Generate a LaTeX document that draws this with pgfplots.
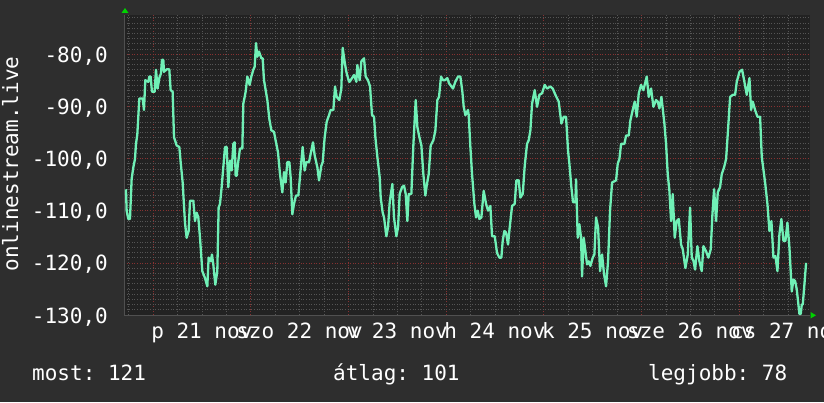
\documentclass[border=0pt]{standalone}
\usepackage{fontspec}
\setmainfont{DejaVu Sans Mono}
\usepackage{pgfplots}
\pgfplotsset{compat=1.18}
\definecolor{outerbg}{RGB}{46,46,46}
\definecolor{plotbg}{RGB}{34,34,34}
\definecolor{mint}{RGB}{112,240,182}
\definecolor{gridred}{RGB}{135,50,50}
\definecolor{gridgray}{RGB}{85,85,85}
\definecolor{axisgray}{RGB}{80,80,80}
\definecolor{arrowgreen}{RGB}{0,210,0}

% hours since 21 nov 00:00, signal level
\pgfplotstableread{
h v
-6.64 -105.9
-6.47 -110.0
-6.06 -111.6
-5.65 -111.6
-5.24 -103.9
-4.83 -101.7
-4.42 -100.1
-4.18 -97.2
-3.85 -95.4
-3.36 -88.5
-2.54 -88.5
-2.21 -90.7
-1.89 -85.0
-1.15 -85.3
-0.90 -84.3
-0.58 -84.3
-0.25 -87.2
0.41 -87.2
0.74 -83.0
1.14 -86.6
1.55 -84.6
1.96 -83.7
2.21 -81.1
2.54 -81.1
2.70 -83.4
3.36 -82.9
4.01 -82.9
4.34 -86.9
4.83 -87.2
5.16 -95.9
5.81 -97.5
6.47 -97.8
6.80 -100.7
7.29 -104.6
7.86 -112.3
8.27 -115.2
8.76 -113.9
9.09 -108.1
9.91 -108.1
10.32 -112.0
10.73 -110.4
11.14 -111.3
11.55 -115.2
12.12 -121.6
12.77 -122.9
13.35 -124.5
13.67 -119.0
14.17 -119.7
14.49 -118.4
14.82 -120.3
15.31 -124.2
15.80 -121.6
16.13 -109.4
16.46 -108.7
16.87 -105.5
17.69 -97.8
18.10 -97.8
18.51 -105.5
18.92 -100.4
19.33 -102.3
19.74 -97.2
20.06 -96.9
20.31 -103.3
20.56 -103.3
20.88 -101.0
21.37 -98.1
21.95 -98.1
22.19 -89.5
22.77 -87.2
23.18 -84.3
23.75 -85.9
24.16 -84.3
24.65 -83.0
24.98 -82.4
25.31 -77.9
25.63 -80.5
26.04 -79.5
26.62 -80.8
26.94 -80.8
27.27 -85.0
27.68 -86.9
28.09 -88.8
28.58 -92.4
29.07 -94.6
29.73 -94.9
30.22 -96.9
30.71 -98.8
31.20 -103.0
31.78 -106.5
32.19 -102.6
32.59 -104.6
33.00 -100.7
33.50 -100.7
33.82 -103.6
34.23 -110.7
34.64 -108.7
35.13 -107.1
35.71 -107.1
36.28 -102.0
36.77 -97.8
37.26 -102.3
37.67 -100.7
38.33 -100.7
38.74 -99.1
39.31 -96.9
39.72 -99.4
40.38 -101.7
40.78 -104.2
41.36 -101.4
41.69 -100.7
42.18 -95.9
42.67 -93.0
43.24 -91.7
43.65 -90.7
44.31 -90.7
44.72 -86.2
45.13 -88.2
45.78 -88.8
46.27 -86.6
46.60 -78.8
47.01 -81.1
47.50 -83.4
48.16 -85.3
48.32 -85.3
48.89 -84.6
49.38 -84.0
49.96 -85.3
50.20 -82.1
50.78 -85.0
51.19 -81.4
51.84 -80.8
52.25 -84.3
52.82 -85.0
53.32 -86.2
53.81 -91.7
54.30 -92.0
54.63 -95.9
55.12 -99.7
55.69 -103.6
55.94 -107.5
56.43 -110.4
56.76 -111.3
57.33 -114.9
57.74 -113.2
58.15 -108.4
58.80 -104.9
59.21 -111.3
59.79 -114.9
60.20 -113.2
60.60 -106.8
61.18 -105.5
61.67 -105.2
62.08 -106.8
62.49 -112.0
62.82 -106.8
63.47 -106.8
63.96 -97.5
64.54 -88.8
64.95 -94.0
65.44 -95.9
65.93 -97.5
66.42 -103.0
66.91 -107.1
67.24 -105.2
67.73 -103.0
68.22 -97.5
68.88 -96.5
69.37 -94.6
69.86 -88.8
70.27 -88.2
70.76 -84.3
71.25 -85.0
71.66 -85.0
72.32 -84.6
72.73 -85.6
73.71 -86.6
74.28 -85.3
74.94 -84.3
75.51 -84.3
76.00 -87.2
76.33 -90.1
76.74 -91.7
77.39 -90.7
77.56 -91.7
77.97 -97.8
78.38 -103.0
78.95 -108.7
79.36 -111.3
79.77 -110.0
80.18 -111.6
80.67 -111.3
81.24 -106.2
81.82 -108.7
82.31 -110.0
82.88 -109.1
83.29 -114.9
83.95 -114.9
84.52 -118.1
85.09 -119.0
85.58 -119.0
85.91 -115.8
86.32 -113.9
86.73 -114.2
87.22 -116.5
87.63 -113.2
88.21 -109.1
88.86 -108.7
89.27 -104.2
89.84 -104.2
90.25 -107.5
90.83 -106.8
91.32 -101.4
91.89 -97.2
92.30 -96.5
92.71 -94.6
93.12 -89.5
93.77 -86.9
94.35 -90.1
94.92 -87.8
95.58 -87.5
96.23 -85.9
96.80 -86.6
97.62 -86.2
98.20 -86.6
98.85 -87.8
99.67 -89.1
100.33 -93.3
100.90 -92.0
101.47 -92.0
101.96 -98.5
102.29 -101.0
102.78 -105.5
103.19 -108.4
103.77 -108.4
103.93 -104.0
104.34 -115.2
104.75 -112.6
105.16 -115.2
105.40 -122.6
105.81 -115.2
106.22 -117.7
106.63 -120.3
107.04 -119.7
107.45 -120.6
108.03 -119.0
108.43 -118.4
108.84 -111.3
109.34 -113.2
109.83 -121.6
110.32 -118.4
110.81 -122.2
111.30 -124.5
111.79 -119.7
112.28 -110.0
112.78 -104.6
113.76 -104.2
114.17 -101.0
114.58 -100.1
114.99 -97.2
115.81 -97.2
116.22 -95.6
116.87 -95.6
117.28 -92.7
117.85 -90.7
118.34 -89.1
118.84 -92.0
119.33 -87.5
119.90 -85.9
120.47 -86.9
121.29 -84.3
121.78 -88.2
122.36 -86.6
122.93 -90.1
123.59 -88.8
124.00 -89.1
124.41 -90.4
124.90 -88.2
125.63 -93.3
126.04 -97.2
126.45 -103.0
126.86 -106.2
127.27 -112.0
127.68 -106.8
128.17 -115.2
128.66 -112.0
129.16 -111.6
129.73 -116.5
130.14 -117.4
130.79 -121.0
131.37 -118.4
131.94 -109.4
132.35 -119.0
132.76 -119.6
133.17 -121.3
133.74 -116.8
134.23 -119.7
134.81 -121.6
135.22 -116.8
135.87 -117.8
136.44 -119.0
137.02 -117.4
137.43 -110.7
137.84 -105.9
138.33 -112.0
138.74 -106.5
139.31 -105.5
139.72 -103.0
140.29 -101.7
140.79 -100.1
141.28 -94.3
141.77 -88.2
142.42 -87.8
143.00 -87.8
143.41 -85.3
144.06 -83.4
144.72 -83.0
145.21 -85.0
145.86 -87.8
146.52 -84.6
146.93 -90.7
147.34 -89.1
147.91 -90.7
148.48 -92.0
149.14 -92.0
149.55 -99.7
150.37 -104.6
150.94 -108.7
151.43 -113.9
151.92 -112.0
152.42 -119.0
152.91 -118.7
153.40 -121.6
153.89 -114.5
154.38 -111.6
154.87 -115.8
155.36 -115.8
155.85 -112.3
156.35 -117.1
156.92 -125.5
157.33 -123.2
157.74 -123.5
158.15 -125.1
158.80 -129.8
159.13 -129.8
159.38 -128.0
159.62 -128.0
160.03 -124.1
160.44 -120.0
}\signal

\begin{document}
\frenchspacing
\begin{tikzpicture}[font=\fontsize{21}{25}\selectfont]
\useasboundingbox (0,0) rectangle (824pt,402pt);
\fill[outerbg] (0,0) rectangle (824pt,402pt);
\begin{axis}[
    at={(124pt,87pt)}, anchor=south west,
    scale only axis, width=686pt, height=300pt,
    xmin=-7.12, xmax=161.4,
    ymin=-130, ymax=-72.5,
    enlargelimits=false,
    axis background/.style={fill=plotbg},
    axis lines=left,
    axis line style={-, draw=axisgray, line width=1pt},
    xtick={0,24,...,144},
    xticklabels={},
    minor xtick={-6,6,12,18,30,36,42,54,60,66,78,84,90,102,108,114,126,132,138,150,156},
    extra x ticks={12,36,...,156},
    extra x tick labels={p 21 nov,szo 22 nov,v 23 nov,h 24 nov,k 25 nov,sze 26 nov,cs 27 nov},
    extra x tick style={grid=none, major tick length=0pt,
        xticklabel style={anchor=base, yshift=-23pt, inner sep=0pt, text=white}},
    ytick={-130,-120,...,-80},
    yticklabels={{-130,0},{-120,0},{-110,0},{-100,0},{-90,0},{-80,0}},
    minor ytick={-129,-128,...,-121,-119,-118,...,-111,-109,-108,...,-101,-99,-98,...,-91,-89,-88,...,-81,-79,-78,...,-73},
    yticklabel style={anchor=base east, xshift=-16pt, yshift=-8pt, inner sep=0pt, text=white},
    major tick length=0pt, minor tick length=0pt,
    grid=both,
    major grid style={draw=gridred, line width=0.6pt, dash pattern=on 1pt off 1.6pt},
    minor grid style={draw=gridgray, line width=0.6pt, dash pattern=on 1pt off 1.6pt},
]
\addplot[mint, line width=2.3pt, line join=round] table[x=h, y=v] {\signal};
\end{axis}
% axis arrows
\fill[arrowgreen] (121.5pt,389pt) -- (128.5pt,389pt) -- (125pt,394pt) -- cycle;
\fill[arrowgreen] (810.5pt,83.5pt) -- (810.5pt,90pt) -- (816pt,86.7pt) -- cycle;
% y label
\node[rotate=90, anchor=base, inner sep=0pt, text=white] at (18pt,238pt) {onlinestream.live};
% summary line
\node[anchor=base west, inner sep=0pt, text=white] at (32pt,22pt) {most: 121};
\node[anchor=base west, inner sep=0pt, text=white] at (333pt,22pt) {átlag: 101};
\node[anchor=base west, inner sep=0pt, text=white] at (648pt,22pt) {legjobb: 78};
\end{tikzpicture}
\end{document}
